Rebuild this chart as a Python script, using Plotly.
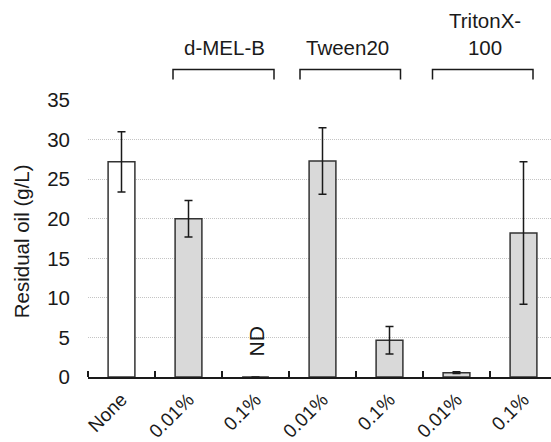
import numpy as np
import plotly.graph_objects as go

# ---- data ----
categories = ["None", "0.01%", "0.1%", "0.01%", "0.1%", "0.01%", "0.1%"]
residual_oil = [27.2, 20.0, 0.0, 27.3, 4.65, 0.55, 18.2]
error_sd = [3.8, 2.3, 0.0, 4.2, 1.75, 0.1, 9.0]
groups = ["d-MEL-B", "Tween20", "TritonX-<br>100"]
y_ticks = [0, 5, 10, 15, 20, 25, 30, 35]

# ---- styles ----
W, H = 551, 442
ML, MR, MT, MB = 88, 0, 100, 65
FONT = "Liberation Sans, Arial, sans-serif"
TXT = "#1a1a1a"
fills = ["white"] + ["#d9d9d9"] * (len(categories) - 1)
x_idx = np.arange(len(categories))
cat_px = 67.0
x_lo = -0.5
x_hi = x_lo + (W - ML - MR) / cat_px

def px_to_paper_x(px):
    return (px - ML) / (W - ML - MR)

def px_to_paper_y(py):
    return (H - MB - py) / (H - MT - MB)

fig = go.Figure()
fig.add_trace(go.Bar(
    x=x_idx, y=residual_oil,
    marker=dict(color=fills, line=dict(color="#333333", width=1.5)),
    width=0.4,
    error_y=dict(type="data", array=error_sd, visible=True,
                 color=TXT, thickness=1.5, width=4),
    showlegend=False,
))

# brackets for groups (pixel spans)
bracket_spans = [(173, 274), (300, 400.5), (432.5, 533)]
label_centers = [224, 347, 485]
b_top, b_bot = 69.5, 79.5
for (x0, x1), name, cx in zip(bracket_spans, groups, label_centers):
    fig.add_shape(type="path", xref="paper", yref="paper",
                  path=f"M {px_to_paper_x(x0)},{px_to_paper_y(b_bot)} "
                       f"L {px_to_paper_x(x0)},{px_to_paper_y(b_top)} "
                       f"L {px_to_paper_x(x1)},{px_to_paper_y(b_top)} "
                       f"L {px_to_paper_x(x1)},{px_to_paper_y(b_bot)}",
                  line=dict(color=TXT, width=1.5))
    fig.add_annotation(x=px_to_paper_x(cx), y=px_to_paper_y(61), xref="paper", yref="paper",
                       text=name, showarrow=False, xanchor="center", yanchor="bottom",
                       font=dict(family=FONT, size=20.5, color=TXT))

# ND annotation
fig.add_annotation(x=2, y=px_to_paper_y(342), xref="x", yref="paper",
                   text="ND", showarrow=False, textangle=-90,
                   xanchor="center", yanchor="middle",
                   font=dict(family=FONT, size=21, color=TXT))

# y title
fig.add_annotation(x=px_to_paper_x(21), y=0.49, xref="paper", yref="paper",
                   text="Residual oil (g/L)", showarrow=False, textangle=-90,
                   xanchor="center", yanchor="middle",
                   font=dict(family=FONT, size=20.5, color=TXT))

fig.update_layout(
    width=W, height=H,
    margin=dict(l=ML, r=MR, t=MT, b=MB, pad=0, autoexpand=False),
    paper_bgcolor="white", plot_bgcolor="white",
    font=dict(family=FONT, size=20.5, color=TXT),
    bargap=0.6,
)
fig.update_xaxes(
    automargin=False,
    range=[x_lo, x_hi], tickmode="array", tickvals=x_idx, ticktext=categories,
    tickangle=-45, ticks="", showgrid=False, zeroline=False,
    showline=True, linecolor=TXT, linewidth=2,
    ticklabelstandoff=2,
    minor=dict(tickmode="array", tickvals=list(np.arange(len(categories) + 1) - 0.5),
               ticks="inside", ticklen=6, tickwidth=1.5, tickcolor=TXT, showgrid=False),
    tickfont=dict(family=FONT, size=19, color=TXT),
)
fig.update_yaxes(
    automargin=False,
    range=[0, 35.02], tickmode="array", tickvals=y_ticks,
    ticks="", showline=False, zeroline=False,
    showgrid=True, gridcolor="#c4c4c4", gridwidth=1, griddash="1px,1px",
    ticklabelstandoff=17,
    tickfont=dict(family=FONT, size=20.5, color=TXT),
)

fig.write_html("out.html")
